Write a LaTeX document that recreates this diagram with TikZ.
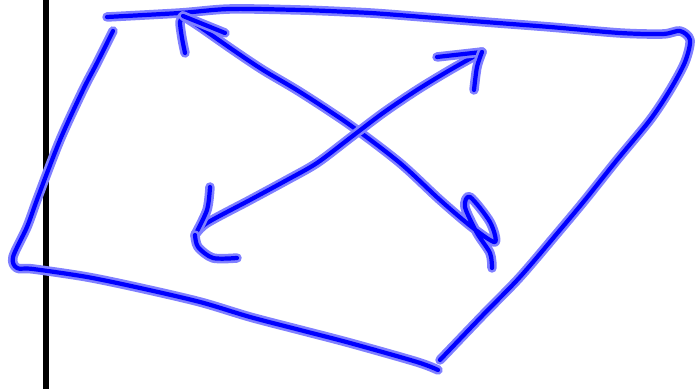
\documentclass[tikz,border=0pt]{standalone}
\usepackage{tikz}
\usetikzlibrary{positioning}

\tikzset{
  ink/.style={draw=blue, line width=1.2pt, line cap=round, line join=round,
    preaction={draw=blue!50, line width=2.7pt, line cap=round, line join=round}},
  rule/.style={draw=black, line width=1.7pt}
}

\begin{document}
\begin{tikzpicture}[x=0.01cm, y=-0.01cm]
  \useasboundingbox (0,0) rectangle (699,389);

  % margin line
  \draw[rule] (46,0) -- (46,389);

  % frame: top and right side
  \draw[ink] plot[smooth, tension=0.5] coordinates {(107,17) (180,13) (230,9) (300,10) (350,12) (385,14) (485,22) (550,27) (620,33) (663,34) (680,31) (690,40) (685,62) (670,90) (650,120) (617,160) (585,200) (560,230) (520,277) (483,315) (440,360)};
  % frame: left side and bottom
  \draw[ink] plot[smooth, tension=0.5] coordinates {(113,31) (97,63) (83,90) (60,140) (38,197) (27,227) (13,257) (17,268) (33,269) (87,277) (140,288) (200,302) (250,317) (300,330) (350,343) (417,362) (438,370)};

  % arrow to the upper left
  \coordinate (tipA) at (183,16);
  \draw[ink] plot[smooth, tension=0.5] coordinates {(tipA) (200,27) (233,50) (263,70) (300,92) (350,125) (400,163) (440,200) (473,228) (495,242) (490,222) (470,197) (465,207) (477,233) (490,253) (492,268)};
  \draw[ink] plot[smooth, tension=0.5] coordinates {(185,53) (182,38) (180,22) (tipA)};
  \draw[ink] (tipA) -- (225,33);

  % arrow to the upper right
  \coordinate (tipB) at (482,52);
  \coordinate (tipC) at (195,235);
  \draw[ink] plot[smooth, tension=0.5] coordinates {(tipC) (207,223) (250,200) (287,180) (317,163) (350,138) (383,113) (417,90) (450,70) (tipB)};
  \draw[ink] (437,57) -- (tipB);
  \draw[ink] plot[smooth, tension=0.5] coordinates {(tipB) (477,67) (474,90)};
  \draw[ink] plot[smooth, tension=0.5] coordinates {(210,187) (207,210) (tipC)};
  \draw[ink] plot[smooth, tension=0.5] coordinates {(tipC) (198,247) (213,258) (237,258)};
\end{tikzpicture}
\end{document}
